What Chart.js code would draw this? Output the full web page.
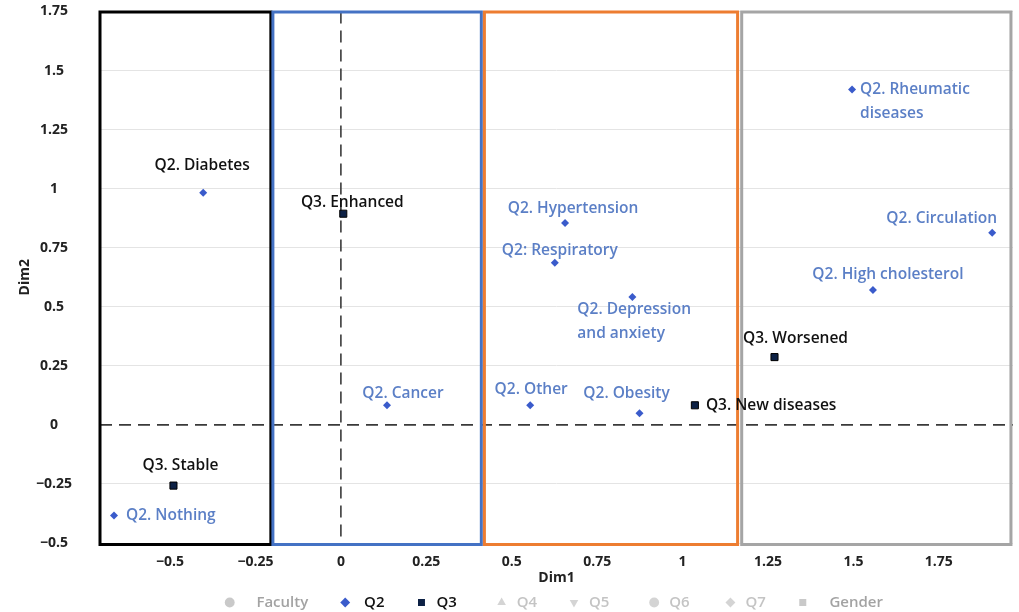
<!DOCTYPE html>
<html>
<head>
<meta charset="utf-8">
<script src="https://cdn.jsdelivr.net/npm/chart.js@4.4.0/dist/chart.umd.min.js"></script>
<style>
html, body { margin: 0; padding: 0; background: #fff; overflow: hidden; }
canvas { display: block; }
</style>
</head>
<body>
<canvas id="caChart" width="1019" height="620"></canvas>
<script>
// categories and their coordinates on the two dimensions
const q2Labels = [['Q2. Diabetes'], ['Q2. Nothing'], ['Q2. Cancer'], ['Q2. Hypertension'], ['Q2: Respiratory'],
    ['Q2. Depression', 'and anxiety'], ['Q2. Other'], ['Q2. Obesity'], ['Q2. Rheumatic', 'diseases'],
    ['Q2. Circulation'], ['Q2. High cholesterol']];
const q2Dim1 = [-0.403, -0.664, 0.135, 0.656, 0.626, 0.853, 0.554, 0.874, 1.496, 1.906, 1.557];
const q2Dim2 = [0.983, -0.384, 0.083, 0.855, 0.686, 0.541, 0.083, 0.049, 1.42, 0.813, 0.571];

const q3Labels = [['Q3. Enhanced'], ['Q3. Stable'], ['Q3. Worsened'], ['Q3. New diseases']];
const q3Dim1 = [0.007, -0.490, 1.269, 1.036];
const q3Dim2 = [0.894, -0.257, 0.287, 0.083];

const legendNames = ['Faculty', 'Q2', 'Q3', 'Q4', 'Q5', 'Q6', 'Q7', 'Gender'];

const xTicks = [-0.5, -0.25, 0, 0.25, 0.5, 0.75, 1, 1.25, 1.5, 1.75];
const yTicks = [-0.5, -0.25, 0, 0.25, 0.5, 0.75, 1, 1.25, 1.5, 1.75];

// cluster bands along Dim1
const bandFrom = [-0.705, -0.199, 0.420, 1.173];
const bandTo = [-0.205, 0.411, 1.161, 1.961];

// label placement: dx, dy, align, colour (pixels from the point)
const q2Place = [[-1, -27, 'center', '#111'], [12, 0, 'left'], [16, -12, 'center'], [8, -14, 'center'],
    [5, -12, 'center'], [-55, 12, 'left'], [1, -16, 'center'], [-13, -20, 'center'], [8, 0, 'left'],
    [5, -14, 'right'], [15, -15, 'center']];
const q3Place = [[9, -11, 'center'], [7, -20, 'center'], [21, -19, 'center'], [11, 0, 'left']];

const bandColors = ['#000000', '#4472c4', '#ed7d31', '#a5a5a5'];
const blueLabel = '#5b7fc6';
const fontFamily = '"Open Sans", "Noto Sans", sans-serif';

const toPoints = (xs, ys) => xs.map((x, i) => ({ x: x, y: ys[i] }));
const fmt = v => (v < 0 ? '\u2212' + Math.abs(v) : String(v));

const bandsPlugin = {
    id: 'bands',
    beforeDatasetsDraw(chart) {
        const { ctx, chartArea, scales: { x, y } } = chart;
        ctx.save();
        // zero reference lines
        ctx.strokeStyle = '#3a3a3a';
        ctx.lineWidth = 1.6;
        ctx.setLineDash([12, 7]);
        ctx.beginPath();
        ctx.moveTo(chartArea.left, y.getPixelForValue(0));
        ctx.lineTo(chartArea.right, y.getPixelForValue(0));
        ctx.moveTo(x.getPixelForValue(0), chartArea.top);
        ctx.lineTo(x.getPixelForValue(0), chartArea.bottom);
        ctx.stroke();
        ctx.setLineDash([]);
        // cluster rectangles
        ctx.lineWidth = 3;
        bandFrom.forEach((from, i) => {
            const x0 = x.getPixelForValue(from);
            const x1 = x.getPixelForValue(bandTo[i]);
            ctx.strokeStyle = bandColors[i];
            ctx.strokeRect(x0, chartArea.top + 0.5, x1 - x0, chartArea.bottom - chartArea.top + 1);
        });
        ctx.restore();
    }
};

const labelsPlugin = {
    id: 'pointLabels',
    afterDatasetsDraw(chart) {
        const { ctx } = chart;
        ctx.save();
        ctx.font = '600 15.5px ' + fontFamily;
        ctx.textBaseline = 'middle';
        chart.data.datasets.forEach((ds, di) => {
            if (!ds.names) return;
            chart.getDatasetMeta(di).data.forEach((pt, i) => {
                const p = ds.place[i];
                ctx.fillStyle = p[3] || ds.labelColor;
                ctx.textAlign = p[2];
                ds.names[i].forEach((line, li) => {
                    ctx.fillText(line, pt.x + p[0], pt.y + p[1] + li * 24);
                });
            });
        });
        ctx.restore();
    }
};

// legend look; lead / trail = spaces around the name
const legendStyles = {
    Faculty: { style: 'circle', fill: '#c9c9c9', font: '#a3a3a3', rot: 0, lead: 3, trail: 5 },
    Q2: { style: 'rectRot', fill: '#3a5bcb', font: '#111', rot: 0, lead: 1, trail: 5 },
    Q3: { style: 'rect', fill: '#0d2145', font: '#111', rot: 0, lead: 0, trail: 7 },
    Q4: { style: 'triangle', fill: '#d4d4d4', font: '#c4c4c4', rot: 0, lead: 0, trail: 5 },
    Q5: { style: 'triangle', fill: '#d4d4d4', font: '#c4c4c4', rot: 180, lead: 0, trail: 7 },
    Q6: { style: 'circle', fill: '#d4d4d4', font: '#c4c4c4', rot: 0, lead: 0, trail: 6 },
    Q7: { style: 'rectRot', fill: '#d4d4d4', font: '#c4c4c4', rot: 0, lead: 0, trail: 5 },
    Gender: { style: 'rect', fill: '#c9c9c9', font: '#a3a3a3', rot: 0, lead: 3, trail: 2 }
};

const datasets = legendNames.map(name => {
    const s = legendStyles[name];
    const ds = {
        label: name,
        data: [],
        pointStyle: s.style,
        rotation: s.rot,
        backgroundColor: s.fill,
        borderColor: s.fill,
        pointRadius: 4
    };
    if (name === 'Q2') {
        ds.data = toPoints(q2Dim1, q2Dim2);
        ds.names = q2Labels;
        ds.place = q2Place;
        ds.labelColor = blueLabel;
        ds.pointRadius = 4;
        ds.borderWidth = 0;
    }
    if (name === 'Q3') {
        ds.data = toPoints(q3Dim1, q3Dim2);
        ds.names = q3Labels;
        ds.place = q3Place;
        ds.labelColor = '#111';
        ds.borderColor = '#000';
        ds.borderWidth = 1;
        ds.pointRadius = 5;
    }
    return ds;
});

const ctx = document.getElementById('caChart').getContext('2d');
const caChart = new Chart(ctx, {
    type: 'scatter',
    data: { datasets: datasets },
    options: {
        responsive: false,
        animation: false,
        layout: { padding: { top: 11.5, right: 0, left: 0, bottom: 0 } },
        scales: {
            x: {
                type: 'linear',
                min: -0.705,
                max: 1.967,
                afterBuildTicks: scale => { scale.ticks = xTicks.map(v => ({ value: v })); },
                afterFit: scale => { scale.height = 42; },
                grid: { display: false, drawTicks: true, tickLength: 11, tickColor: 'rgba(0,0,0,0)' },
                border: { display: false },
                ticks: {
                    padding: 0,
                    color: '#222',
                    font: { family: fontFamily, size: 14, weight: 'bold' },
                    callback: v => fmt(v)
                },
                title: {
                    display: true,
                    text: 'Dim1',
                    color: '#222',
                    padding: { top: 0, bottom: 0 },
                    font: { family: fontFamily, size: 14, weight: 'bold', lineHeight: 1 }
                }
            },
            y: {
                type: 'linear',
                min: -0.5,
                max: 1.75,
                afterBuildTicks: scale => { scale.ticks = yTicks.map(v => ({ value: v })); },
                afterFit: scale => { scale.width = 100; },
                grid: {
                    drawTicks: true,
                    tickLength: 28,
                    tickColor: 'rgba(0,0,0,0)',
                    color: c => (c.tick && c.tick.value === 0 ? 'rgba(0,0,0,0)' : '#e4e4e4')
                },
                border: { display: false },
                ticks: {
                    padding: 0,
                    crossAlign: 'center',
                    color: '#222',
                    font: { family: fontFamily, size: 14, weight: 'bold' },
                    callback: v => fmt(v)
                },
                title: {
                    display: true,
                    text: 'Dim2',
                    color: '#222',
                    padding: { top: 17, bottom: 0 },
                    font: { family: fontFamily, size: 14, weight: 'bold' }
                }
            }
        },
        plugins: {
            legend: {
                position: 'bottom',
                fullSize: false,
                onClick: null,
                labels: {
                    usePointStyle: true,
                    boxHeight: 7,
                    padding: 10,
                    font: { family: fontFamily, size: 15, weight: '600' },
                    generateLabels: chart => chart.data.datasets.map((ds, i) => {
                        const s = legendStyles[ds.label];
                        return {
                            text: ' '.repeat(s.lead) + ds.label + ' '.repeat(s.trail),
                            fillStyle: s.fill,
                            strokeStyle: s.fill,
                            lineWidth: 0,
                            pointStyle: s.style,
                            rotation: s.rot,
                            fontColor: s.font,
                            hidden: false,
                            datasetIndex: i
                        };
                    })
                }
            },
            tooltip: { enabled: false }
        }
    },
    plugins: [bandsPlugin, labelsPlugin]
});
</script>
</body>
</html>
